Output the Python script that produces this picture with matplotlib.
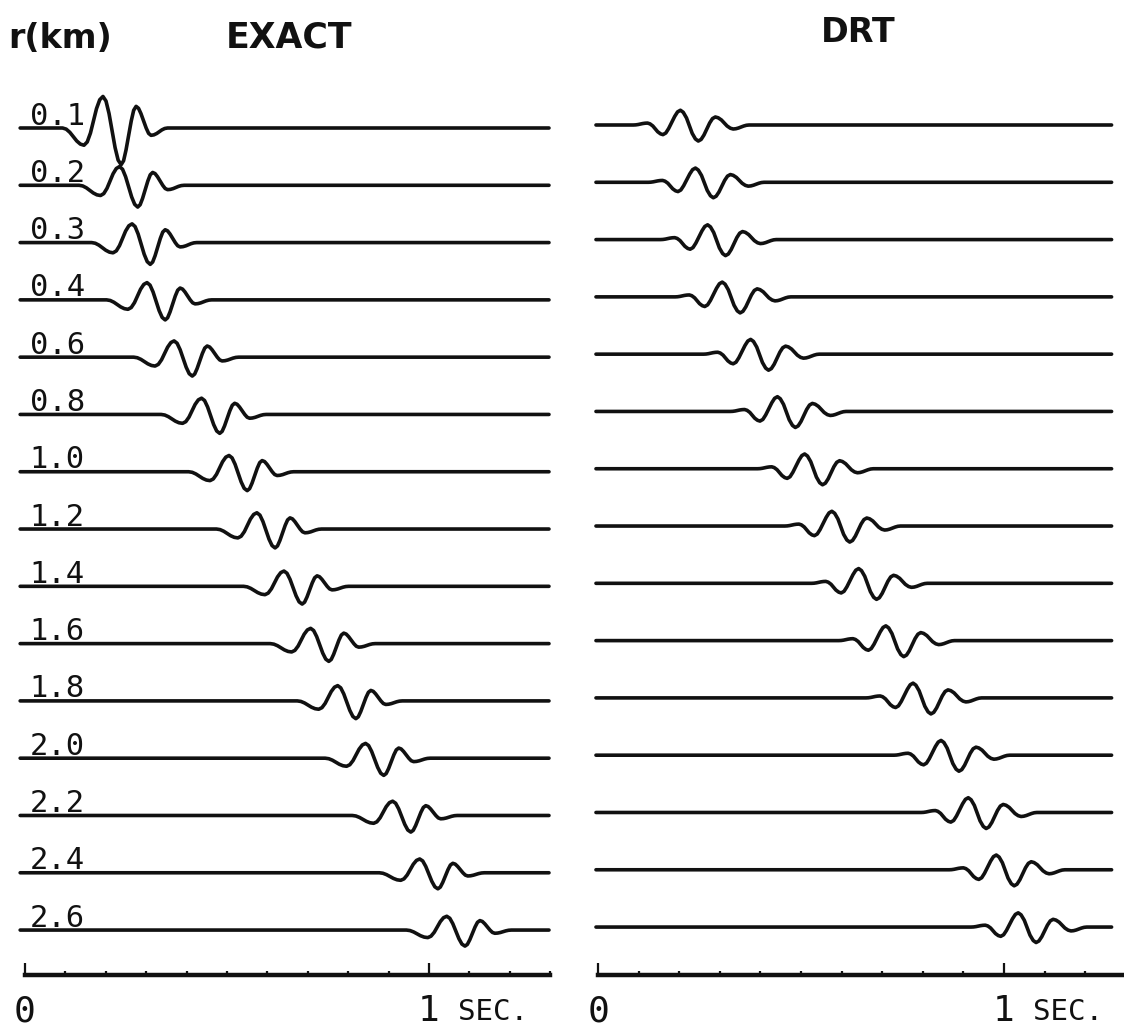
import numpy as np
import matplotlib
matplotlib.use("Agg")
import matplotlib.pyplot as plt
from matplotlib.ticker import MultipleLocator, FixedLocator

# ---------------- data ----------------
distances = ["0.1", "0.2", "0.3", "0.4", "0.6", "0.8", "1.0", "1.2",
             "1.4", "1.6", "1.8", "2.0", "2.2", "2.4", "2.6"]

# time (s) of the main trough of each trace
exact_trough_t = [0.238, 0.279, 0.310, 0.347, 0.414, 0.482, 0.550, 0.619,
                  0.686, 0.752, 0.819, 0.888, 0.955, 1.022, 1.089]
drt_trough_t = [0.247, 0.284, 0.314, 0.350, 0.420, 0.486, 0.553, 0.620,
                0.686, 0.753, 0.820, 0.889, 0.956, 1.025, 1.079]

# trough depth of each trace, in units of trace spacing
exact_amp = [0.64, 0.38, 0.38, 0.35, 0.33, 0.33, 0.33, 0.33,
             0.31, 0.31, 0.31, 0.30, 0.29, 0.28, 0.28]
drt_amp = [0.28, 0.27, 0.28, 0.28, 0.28, 0.28, 0.28, 0.28,
           0.28, 0.28, 0.28, 0.28, 0.28, 0.28, 0.27]

# wavelet shapes (time relative to trough, amplitude / trough depth)
exact_wav_t = [-0.145, -0.136, -0.127, -0.1185, -0.110, -0.101,
               -0.092, -0.084, -0.076, -0.0685, -0.061, -0.053,
               -0.045, -0.0375, -0.030, -0.0225, -0.015, -0.0075,
               0.0, 0.006, 0.012, 0.0185, 0.025, 0.031,
               0.037, 0.043, 0.049, 0.0555, 0.062, 0.068,
               0.074, 0.081, 0.088, 0.0945, 0.101, 0.108, 0.115]
exact_wav_a = [0.0, -0.031, -0.118, -0.235, -0.353, -0.439,
               -0.47, -0.381, -0.138, 0.195, 0.528, 0.771,
               0.86, 0.735, 0.395, -0.07, -0.535, -0.875,
               -1.0, -0.893, -0.603, -0.205, 0.193, 0.483,
               0.59, 0.537, 0.393, 0.195, -0.003, -0.147,
               -0.20, -0.187, -0.15, -0.10, -0.05, -0.013, 0.0]

drt_wav_t = [-0.16, -0.154, -0.148, -0.1425, -0.137, -0.131,
             -0.125, -0.119, -0.112, -0.106, -0.100, -0.093,
             -0.087, -0.080, -0.073, -0.0655, -0.058, -0.051,
             -0.044, -0.037, -0.029, -0.022, -0.015, -0.007,
             0.0, 0.007, 0.014, 0.021, 0.028, 0.035,
             0.042, 0.049, 0.057, 0.064, 0.071, 0.079,
             0.086, 0.0925, 0.099, 0.1055, 0.112, 0.1185, 0.125]
drt_wav_a = [0.0, 0.008, 0.03, 0.06, 0.09, 0.112,
             0.12, 0.072, -0.06, -0.24, -0.42, -0.552,
             -0.60, -0.498, -0.22, 0.16, 0.54, 0.818,
             0.92, 0.791, 0.44, -0.04, -0.52, -0.871,
             -1.0, -0.90, -0.625, -0.25, 0.125, 0.40,
             0.50, 0.45, 0.313, 0.125, -0.063, -0.20,
             -0.25, -0.233, -0.188, -0.125, -0.063, -0.017, 0.0]

exact_trace_span = (-0.012, 1.297)
drt_trace_span = (-0.005, 1.265)
axis_span = (0.0, 1.30)

# ---------------- figure ----------------
W, H = 1124, 1030
fig = plt.figure(figsize=(W / 100, H / 100), dpi=100)

mono = "DejaVu Sans Mono"
bold = "DejaVu Sans"
ink = "#111111"


def panel(rect, xlim, ylim, trough_t, amp, wav_t, wav_a, span, labels, axis_y):
    ax = fig.add_axes(rect)
    ax.set_xlim(*xlim)
    ax.set_ylim(*ylim)
    wt = np.asarray(wav_t)
    wa = np.asarray(wav_a)
    for i, (t0, a) in enumerate(zip(trough_t, amp)):
        x = np.concatenate([[span[0]], t0 + wt, [span[1]]])
        y = np.concatenate([[-i], -i + a * wa, [-i]])
        ax.plot(x, y, color=ink, lw=2.6, solid_capstyle="round",
                solid_joinstyle="round")
        if labels:
            ax.text(0.012, -i + 0.06, labels[i], fontfamily=mono,
                    fontsize=22, color=ink, ha="left", va="baseline")
    # time axis
    for s in ["top", "left", "right"]:
        ax.spines[s].set_visible(False)
    sp = ax.spines["bottom"]
    sp.set_position(("data", axis_y))
    sp.set_bounds(*axis_span)
    sp.set_linewidth(3.2)
    sp.set_color(ink)
    ax.set_yticks([])
    ax.xaxis.set_major_locator(FixedLocator([0, 1]))
    ax.xaxis.set_minor_locator(MultipleLocator(0.1))
    ax.tick_params(axis="x", which="major", direction="in", length=9,
                   width=1.6, color=ink, pad=14, labelsize=26,
                   labelcolor=ink)
    ax.tick_params(axis="x", which="minor", direction="in", length=3,
                   width=1.6, color=ink)
    ax.set_xticklabels(["0", "1"], fontfamily=mono)
    ax.text(1.072, axis_y - 0.78, "SEC.", fontfamily=mono, fontsize=21,
            color=ink, ha="left", va="baseline")
    ax.patch.set_visible(False)
    return ax


row_px = 57.29
# left panel: t=0 at x=25px, 404 px/s ; row 0 baseline at y=128px
lx0, lw_px, lscale = 25, 560, 404.0
left_xlim = (-lx0 / lscale, (lw_px - lx0) / lscale)
left_ylim = (-(H - 128) / row_px, 128 / row_px)
panel([0, 0, lw_px / W, 1], left_xlim, left_ylim, exact_trough_t, exact_amp,
      exact_wav_t, exact_wav_a, exact_trace_span, distances,
      -(975 - 128) / row_px)

# right panel: t=0 at x=598px, 406 px/s ; row 0 baseline at y=125px
rx_off = 560
rscale = 406.0
right_xlim = (-(598 - rx_off) / rscale, (W - 598) / rscale)
right_ylim = (-(H - 125) / row_px, 125 / row_px)
panel([rx_off / W, 0, (W - rx_off) / W, 1], right_xlim, right_ylim,
      drt_trough_t, drt_amp, drt_wav_t, drt_wav_a, drt_trace_span, None,
      -(975 - 125) / row_px)

fig.text(8 / W, 1 - 48 / H, "r(km)", fontfamily=bold, fontweight="bold",
         fontsize=24, color=ink, ha="left", va="baseline")
fig.text(226 / W, 1 - 47 / H, "EXACT", fontfamily=bold, fontweight="bold",
         fontsize=25, color=ink, ha="left", va="baseline")
fig.text(858 / W, 1 - 42 / H, "DRT", fontfamily=bold, fontweight="bold",
         fontsize=24, color=ink, ha="center", va="baseline")

fig.savefig("out.png", dpi=100, facecolor="white")
